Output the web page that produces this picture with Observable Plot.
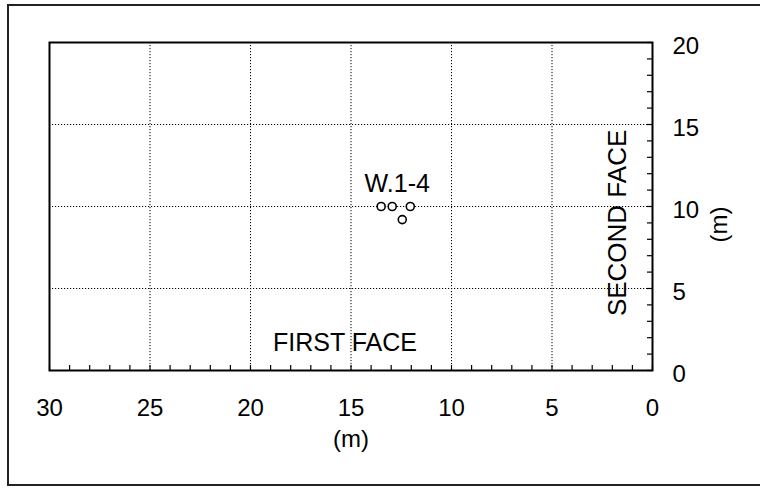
<!DOCTYPE html>
<html>
<head>
<meta charset="utf-8">
<script src="https://cdn.jsdelivr.net/npm/d3@7"></script>
<script src="https://cdn.jsdelivr.net/npm/@observablehq/plot@0.6"></script>
<style>
  html, body { margin: 0; padding: 0; background: #fff; }
  #wrap { position: relative; width: 760px; height: 492px; overflow: hidden; }
  #border { position: absolute; left: 7px; top: 4px; width: 820px; height: 478px;
            border: 2px solid #222; border-right: none; }
  #chart { position: absolute; left: 0; top: 0; }
</style>
</head>
<body>
<div id="wrap">
  <div id="border"></div>
  <div id="chart"></div>
</div>
<script>
// Axis ticks
const xTickValues = [30, 25, 20, 15, 10, 5, 0];
const yTickValues = [0, 5, 10, 15, 20];
const xGridValues = [25, 20, 15, 10, 5];
const yGridValues = [5, 10, 15];

// Well locations (W.1-4)
const wellX = [13.5, 12.95, 12.05, 12.45];
const wellY = [10, 10, 10, 9.2];

// Annotation labels
const labelTexts = ["W.1-4", "FIRST FACE"];
const labelX = [12.7, 15.3];
const labelY = [11.4, 1.7];
const sideLabel = "SECOND FACE";
const sideLabelX = [1.75];
const sideLabelY = [9.0];
const unitLabel = "(m)";

const wells = wellX.map((x, i) => ({x, y: wellY[i]}));
const labels = labelTexts.map((t, i) => ({t, x: labelX[i], y: labelY[i]}));
const xMinor = d3.range(0, 31);
const yMinor = d3.range(0, 21);

const chart = Plot.plot({
  width: 760,
  height: 492,
  marginLeft: 49,
  marginRight: 108,
  marginTop: 42,
  marginBottom: 122,
  x: {domain: [30, 0]},
  y: {domain: [0, 20]},
  style: {fontFamily: "'Liberation Sans', Arial, sans-serif", fontSize: "24px", background: "transparent", color: "black"},
  marks: [
    Plot.gridX(xGridValues, {stroke: "black", strokeOpacity: 1, strokeWidth: 1, strokeDasharray: "1.2,1.8"}),
    Plot.gridY(yGridValues, {stroke: "black", strokeOpacity: 1, strokeWidth: 1, strokeDasharray: "1.2,1.8"}),
    Plot.ruleX(xMinor, {x: d => d, y1: 0, y2: 0.3, stroke: "black", strokeWidth: 1.2}),
    Plot.ruleY(yMinor, {y: d => d, x1: 0, x2: 0.25, stroke: "black", strokeWidth: 1.2}),
    Plot.frame({stroke: "black", strokeWidth: 2}),
    Plot.axisX(xTickValues, {anchor: "bottom", tickSize: 0, tickPadding: 28, label: null, fontSize: 24}),
    Plot.axisY(yTickValues, {anchor: "right", tickSize: 0, tickPadding: 20, label: null, fontSize: 24, dy: 4}),
    Plot.dot(wells, {x: "x", y: "y", r: 4, stroke: "black", strokeWidth: 1.6, fill: "white"}),
    Plot.text(labels, {x: "x", y: "y", text: "t", fontSize: 25}),
    Plot.text([sideLabel], {x: sideLabelX, y: sideLabelY, text: d => d, rotate: -90, fontSize: 26}),
    Plot.text([unitLabel], {frameAnchor: "bottom", dy: 76, text: d => d, fontSize: 24}),
    Plot.text([unitLabel], {frameAnchor: "right", dx: 67, text: d => d, rotate: -90, fontSize: 24})
  ]
});
document.getElementById("chart").appendChild(chart);
</script>
</body>
</html>
